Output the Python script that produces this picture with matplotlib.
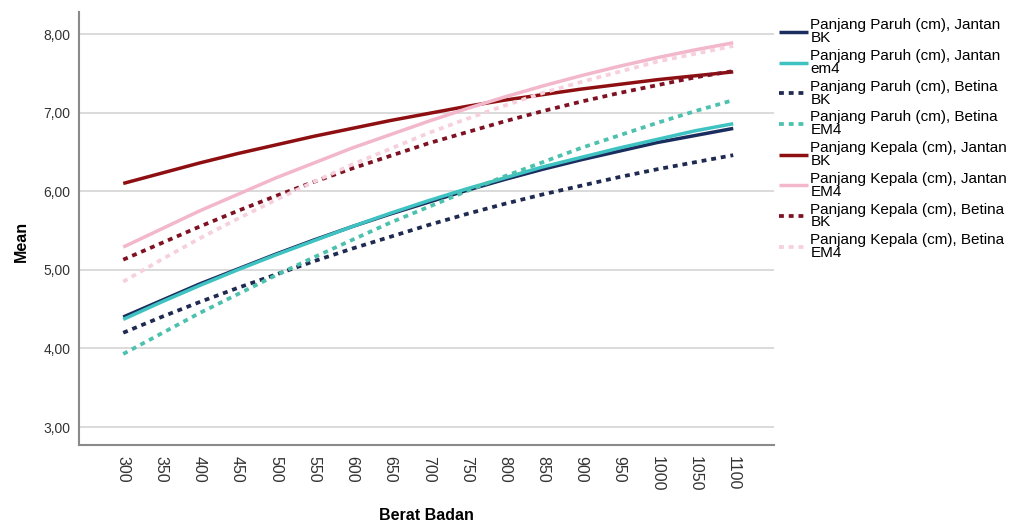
import numpy as np
import matplotlib
matplotlib.use("Agg")
import matplotlib.pyplot as plt
from matplotlib.ticker import FuncFormatter

plt.rcParams['font.family'] = ['Liberation Sans', 'DejaVu Sans']

berat = [300, 350, 400, 450, 500, 550, 600, 650, 700, 750,
         800, 850, 900, 950, 1000, 1050, 1100]

# values at each x tick
paruh_jantan_bk = [4.40, 4.61, 4.82, 5.01, 5.20, 5.38, 5.55, 5.71, 5.86,
                   6.01, 6.15, 6.28, 6.40, 6.51, 6.62, 6.71, 6.80]
paruh_jantan_em4 = [4.37, 4.59, 4.80, 5.00, 5.19, 5.37, 5.55, 5.72, 5.88,
                    6.03, 6.17, 6.31, 6.43, 6.55, 6.66, 6.77, 6.86]
paruh_betina_bk = [4.20, 4.40, 4.59, 4.77, 4.94, 5.11, 5.27, 5.42, 5.57,
                   5.71, 5.84, 5.96, 6.07, 6.18, 6.28, 6.37, 6.46]
paruh_betina_em4 = [3.93, 4.19, 4.45, 4.69, 4.93, 5.16, 5.38, 5.60, 5.80,
                    6.00, 6.19, 6.37, 6.55, 6.71, 6.87, 7.02, 7.16]
kepala_jantan_bk = [6.10, 6.23, 6.36, 6.48, 6.59, 6.70, 6.80, 6.90, 6.99,
                    7.08, 7.16, 7.23, 7.30, 7.36, 7.42, 7.47, 7.52]
kepala_jantan_em4 = [5.29, 5.52, 5.75, 5.96, 6.17, 6.36, 6.55, 6.72, 6.89,
                     7.05, 7.20, 7.34, 7.47, 7.59, 7.70, 7.80, 7.89]
kepala_betina_bk = [5.13, 5.34, 5.55, 5.75, 5.94, 6.12, 6.29, 6.45, 6.61,
                    6.75, 6.89, 7.02, 7.14, 7.25, 7.35, 7.45, 7.53]
kepala_betina_em4 = [4.85, 5.13, 5.40, 5.65, 5.89, 6.12, 6.34, 6.54, 6.74,
                     6.92, 7.09, 7.25, 7.39, 7.52, 7.65, 7.75, 7.85]

series = [
    ("Panjang Paruh (cm), Jantan\nBK", paruh_jantan_bk, "#1b2d5e", "-"),
    ("Panjang Paruh (cm), Jantan\nem4", paruh_jantan_em4, "#3fc2c2", "-"),
    ("Panjang Paruh (cm), Betina\nBK", paruh_betina_bk, "#1e2a50", ":"),
    ("Panjang Paruh (cm), Betina\nEM4", paruh_betina_em4, "#4cc1ad", ":"),
    ("Panjang Kepala (cm), Jantan\nBK", kepala_jantan_bk, "#8e0f12", "-"),
    ("Panjang Kepala (cm), Jantan\nEM4", kepala_jantan_em4, "#f3b7cb", "-"),
    ("Panjang Kepala (cm), Betina\nBK", kepala_betina_bk, "#7e1222", ":"),
    ("Panjang Kepala (cm), Betina\nEM4", kepala_betina_em4, "#f6d0dc", ":"),
]

fig = plt.figure(figsize=(10.17, 5.28), dpi=100)
ax = fig.add_axes([0.0777, 0.157, 0.683, 0.820])

for label, vals, color, style in series:
    if style == "-":
        ax.plot(berat, vals, color=color, lw=2.5, label=label,
                solid_capstyle="butt")
    else:
        ax.plot(berat, vals, color=color, lw=2.7, label=label,
                linestyle=(0, (1.3, 1.3)), dash_capstyle="butt")

ax.set_xlim(242, 1153)
ax.set_ylim(2.77, 8.28)
ax.set_xticks(berat)
ax.set_xticklabels([str(b) for b in berat], rotation=270, fontsize=11.5,
                   color="#333333")
ax.set_yticks([3, 4, 5, 6, 7, 8])
ax.yaxis.set_major_formatter(FuncFormatter(lambda v, p: f"{v:.2f}".replace(".", ",")))
ax.tick_params(axis="y", labelsize=10, colors="#333333", length=0, pad=6)
ax.tick_params(axis="x", length=0, pad=8)
ax.grid(axis="y", color="#d4d4d4", lw=1.2)
ax.set_axisbelow(True)
for s in ["top", "right"]:
    ax.spines[s].set_visible(False)
for s in ["left", "bottom"]:
    ax.spines[s].set_color("#8a8a8a")
    ax.spines[s].set_linewidth(1.5)

ax.set_ylabel("Mean", fontsize=11.5, fontweight="bold")
ax.yaxis.set_label_coords(-0.072, 0.47)
ax.set_xlabel("Berat Badan", fontsize=11.5, fontweight="bold")
ax.xaxis.set_label_coords(0.5, -0.145)

leg = fig.legend(loc="upper left", bbox_to_anchor=(0.760, 0.977), frameon=False,
                 fontsize=11, handlelength=1.9, handletextpad=0.15,
                 labelspacing=0.25, borderaxespad=0)
for t in leg.get_texts():
    t.set_linespacing(0.9)

fig.savefig("out.png", dpi=100)
